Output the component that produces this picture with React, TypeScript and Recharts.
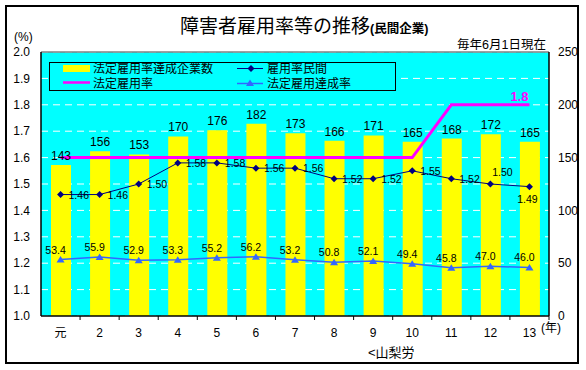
import {
  ComposedChart,
  Bar,
  Line,
  XAxis,
  YAxis,
  CartesianGrid,
  LabelList,
  ReferenceLine,
} from "recharts";

const years = ["元", "2", "3", "4", "5", "6", "7", "8", "9", "10", "11", "12", "13"];
const companies = [143, 156, 153, 170, 176, 182, 173, 166, 171, 165, 168, 172, 165];
const privateRate = [1.46, 1.46, 1.5, 1.58, 1.58, 1.56, 1.56, 1.52, 1.52, 1.55, 1.52, 1.5, 1.49];
const legalRate = [1.6, 1.6, 1.6, 1.6, 1.6, 1.6, 1.6, 1.6, 1.6, 1.6, 1.8, 1.8, 1.8];
const achieveRate = [53.4, 55.9, 52.9, 53.3, 55.2, 56.2, 53.2, 50.8, 52.1, 49.4, 45.8, 47.0, 46.0];

const leftTicks = [1.0, 1.1, 1.2, 1.3, 1.4, 1.5, 1.6, 1.7, 1.8, 1.9, 2.0];
const rightTicks = [0, 50, 100, 150, 200, 250];

const data = years.map((y, i) => ({
  year: y,
  companies: companies[i],
  privateRate: privateRate[i],
  legalRate: legalRate[i],
  achieveRate: achieveRate[i],
}));

const FONT = "'Liberation Sans', Arial, 'Noto Sans CJK JP', sans-serif";
const CYAN = "#00FFFF";
const NAVY = "#000080";
const BLUE = "#3366FF";
const MAGENTA = "#FF00FF";

function px(p: any) {
  return {
    x: p.x ?? p.viewBox?.x ?? 0,
    y: p.y ?? p.viewBox?.y ?? 0,
  };
}

function Diamond(props: any) {
  const { cx, cy } = props;
  if (cx == null || cy == null) return null;
  return (
    <polygon
      points={`${cx},${cy - 3.5} ${cx + 3.5},${cy} ${cx},${cy + 3.5} ${cx - 3.5},${cy}`}
      fill={NAVY}
    />
  );
}

function Triangle(props: any) {
  const { cx, cy } = props;
  if (cx == null || cy == null) return null;
  return (
    <polygon points={`${cx},${cy - 3.5} ${cx + 4},${cy + 3} ${cx - 4},${cy + 3}`} fill={BLUE} />
  );
}

function PrivateLabel(props: any) {
  const { x, y } = px(props);
  const v = Number(props.value).toFixed(2);
  const i = props.index;
  let tx = x + 8;
  let ty = y + 4;
  let anchor: "start" | "middle" = "start";
  if (i === 11) {
    tx = x + 12;
    ty = y - 8;
    anchor = "middle";
  } else if (i === 12) {
    tx = x - 2;
    ty = y + 16;
    anchor = "middle";
  }
  return (
    <text x={tx} y={ty} textAnchor={anchor} fontSize={10.5} fill="#000" fontFamily={FONT}>
      {v}
    </text>
  );
}

function AchieveLabel(props: any) {
  const { x, y } = px(props);
  return (
    <text x={x - 5} y={y - 6} textAnchor="middle" fontSize={10.5} fill="#000" fontFamily={FONT}>
      {Number(props.value).toFixed(1)}
    </text>
  );
}

function LegalLabel(props: any) {
  if (props.index !== legalRate.length - 1) return null;
  const { x, y } = px(props);
  return (
    <text x={x - 10} y={y - 4} textAnchor="middle" fontSize={13} fontWeight="bold" fill={MAGENTA} fontFamily={FONT}>
      {Number(props.value).toFixed(1)}
    </text>
  );
}

function YearTick(props: any) {
  const { x, y, payload } = props;
  const step = 508 / years.length;
  return (
    <g>
      <line x1={x + step / 2} x2={x + step / 2} y1={316} y2={320} stroke="#000" />
      <text x={x} y={y + 13} textAnchor="middle" fontSize={12} fill="#000" fontFamily={FONT}>
        {payload.value}
      </text>
    </g>
  );
}

const abs = (left: number, top: number, extra: any = {}) => ({
  position: "absolute" as const,
  left,
  top,
  whiteSpace: "nowrap" as const,
  lineHeight: 1,
  fontFamily: FONT,
  color: "#000",
  ...extra,
});

function LegendBox() {
  return (
    <div
      style={abs(49, 62, {
        width: 347,
        height: 29,
        boxSizing: "border-box",
        border: "1px solid #000",
        background: CYAN,
        fontSize: 12,
      })}
    >
      <svg width={345} height={27} style={{ position: "absolute", left: 0, top: 0 }}>
        <rect x={13} y={2} width={27} height={7} fill="#FFFF00" />
        <line x1={13} x2={40} y1={19.5} y2={19.5} stroke={MAGENTA} strokeWidth={2.5} />
        <line x1={187} x2={213} y1={5.5} y2={5.5} stroke={NAVY} strokeWidth={1} />
        <Diamond cx={201} cy={5.5} />
        <line x1={187} x2={213} y1={20.5} y2={20.5} stroke={BLUE} strokeWidth={1.5} />
        <Triangle cx={200} cy={20} />
      </svg>
      <span style={abs(43, 0)}>法定雇用率達成企業数</span>
      <span style={abs(43, 15)}>法定雇用率</span>
      <span style={abs(217, 0)}>雇用率民間</span>
      <span style={abs(217, 15)}>法定雇用達成率</span>
    </div>
  );
}

export default function App() {
  return (
    <div style={{ position: "absolute", left: 0, top: 0, width: 586, height: 370, background: "#fff" }}>
      <ComposedChart
        width={586}
        height={370}
        data={data}
        margin={{ top: 52, right: 0, bottom: 24, left: 0 }}
        barCategoryGap={0}
      >
        <CartesianGrid
          yAxisId="left"
          vertical={false}
          horizontal
          fill={CYAN}
          fillOpacity={1}
          stroke="#fff"
          strokeDasharray="7 5"
          horizontalValues={leftTicks}
        />
        <XAxis
          dataKey="year"
          height={30}
          axisLine={{ stroke: "#000", strokeWidth: 1.5 }}
          tickLine={false}
          tick={<YearTick />}
          interval={0}
        />
        <YAxis
          yAxisId="left"
          domain={[1, 2]}
          ticks={leftTicks}
          width={41}
          tickLine={false}
          tickMargin={5}
          axisLine={{ stroke: "#000", strokeWidth: 1.5 }}
          tickFormatter={(v: number) => v.toFixed(1)}
          tick={{ fontSize: 12, fill: "#000", fontFamily: FONT }}
          interval={0}
        />
        <YAxis
          yAxisId="right"
          orientation="right"
          domain={[0, 250]}
          ticks={rightTicks}
          width={37}
          tickLine={false}
          tickMargin={3}
          axisLine={{ stroke: "#000", strokeWidth: 1.5 }}
          tick={{ fontSize: 12, fill: "#000", fontFamily: FONT, textAnchor: "start" }}
          interval={0}
        />
        <ReferenceLine yAxisId="left" y={2} stroke="#808080" strokeWidth={1.5} />
        <Bar yAxisId="right" dataKey="companies" fill="#FFFF00" barSize={20} isAnimationActive={false}>
          <LabelList dataKey="companies" position="top" offset={5} fontSize={12} fill="#000" fontFamily={FONT} />
        </Bar>
        <Line
          yAxisId="left"
          type="linear"
          dataKey="legalRate"
          stroke={MAGENTA}
          strokeWidth={3}
          dot={false}
          activeDot={false}
          isAnimationActive={false}
        >
          <LabelList dataKey="legalRate" content={<LegalLabel />} />
        </Line>
        <Line
          yAxisId="left"
          type="linear"
          dataKey="privateRate"
          stroke={NAVY}
          strokeWidth={1}
          dot={(p: any) => <Diamond key={`d${p.index}`} {...p} />}
          activeDot={false}
          isAnimationActive={false}
        >
          <LabelList dataKey="privateRate" content={<PrivateLabel />} />
        </Line>
        <Line
          yAxisId="right"
          type="linear"
          dataKey="achieveRate"
          stroke={BLUE}
          strokeWidth={1.5}
          dot={(p: any) => <Triangle key={`t${p.index}`} {...p} />}
          activeDot={false}
          isAnimationActive={false}
        >
          <LabelList dataKey="achieveRate" content={<AchieveLabel />} />
        </Line>
      </ComposedChart>

      <LegendBox />

      <div
        style={{
          position: "absolute",
          left: 5,
          top: 5,
          width: 574,
          height: 359,
          boxSizing: "border-box",
          border: "2px solid #000",
          pointerEvents: "none",
        }}
      />
      <div style={abs(180, 17, { fontSize: 19 })}>
        障害者雇用率等の推移
        <span style={{ fontSize: 12.5, fontWeight: "bold" }}>(民間企業)</span>
      </div>
      <div style={abs(14, 31, { fontSize: 12 })}>(%)</div>
      <div style={abs(457, 39, { fontSize: 12.5 })}>毎年6月1日現在</div>
      <div style={abs(541, 322, { fontSize: 12 })}>(年)</div>
      <div style={abs(368, 346, { fontSize: 13 })}>&lt;山梨労</div>
    </div>
  );
}
